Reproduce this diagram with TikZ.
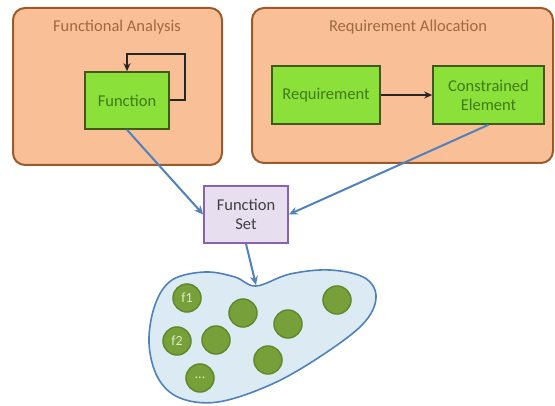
\documentclass[tikz,border=0pt]{standalone}
\usepackage{fontspec}
\setmainfont{Carlito}
\usetikzlibrary{arrows.meta}
\definecolor{orfill}{HTML}{F9BF96}
\definecolor{ordraw}{HTML}{9A5A2C}
\definecolor{ortext}{HTML}{9E6A42}
\definecolor{grfill}{HTML}{8CE03A}
\definecolor{grdraw}{HTML}{3F5A1A}
\definecolor{grtext}{HTML}{3F7A18}
\definecolor{pufill}{HTML}{E7DFF0}
\definecolor{pudraw}{HTML}{8A62AE}
\definecolor{putext}{HTML}{404040}
\definecolor{blfill}{HTML}{DCEAF4}
\definecolor{bldraw}{HTML}{4F81BD}
\definecolor{cifill}{HTML}{78A03A}
\definecolor{cidraw}{HTML}{5E8A2A}
\definecolor{citext}{HTML}{DDEBC4}
\tikzset{
  area/.style={draw=ordraw, fill=orfill, line width=2pt, rounded corners=12pt},
  areatitle/.style={text=ortext, font=\fontsize{16.5}{19}\selectfont},
  gbox/.style={draw=grdraw, fill=grfill, line width=1.6pt, text=grtext, align=center, font=\fontsize{16.5}{19}\selectfont, inner sep=0pt},
  pbox/.style={draw=pudraw, fill=pufill, line width=1.6pt, text=putext, align=center, font=\fontsize{16.5}{19}\selectfont, inner sep=0pt, minimum width=84pt, minimum height=57pt},
  blarrow/.style={draw=bldraw, line width=2pt, -{Stealth[length=9pt,width=8pt]}},
  bkarrow/.style={draw=black!85, line width=2pt, -{Stealth[length=8pt,width=7pt]}},
  elem/.style={circle, draw=cidraw, fill=cifill, line width=1.5pt, minimum size=28pt, inner sep=0pt, text=citext, font=\fontsize{14}{16}\selectfont},
}
\begin{document}
\begin{tikzpicture}[x=1pt,y=-1pt]
\useasboundingbox (0,0) rectangle (555,406);
% areas
\draw[area] (13,8) rectangle (222,165);
\draw[area] (252,8) rectangle (553,163);
\node[areatitle] (fatitle) at (117,27) {Functional Analysis};
\node[areatitle] (ratitle) at (408,27) {Requirement Allocation};
% boxes
\node[gbox, minimum width=84pt, minimum height=57pt] (func) at (127,100.5) {Function};
\node[gbox, minimum width=108pt, minimum height=58pt] (req) at (326,95) {Requirement};
\node[gbox, minimum width=111pt, minimum height=58pt] (ce) at (488.5,95) {Constrained\\Element};
\node[pbox] (fset) at (246,214.5) {Function\\Set};
% loop and arrows
\draw[bkarrow] (func.east) -- ++(15,0) |- ([yshift=17pt]func.north) -- (func.north);
\draw[bkarrow] (req.east) -- (ce.west);
% blob
\coordinate (btop) at (256,285);
\draw[draw=bldraw, fill=blfill, line width=1.6pt] plot[smooth cycle, tension=0.6] coordinates {
  (256,286) (290,274) (330,270) (365,278) (376,298) (362,325) (318,358) (270,385) (218,402) (180,398) (158,378) (149,343) (155,305) (172,280) (205,272) (235,277)};
\draw[blarrow] (func.south) -- (fset.west);
\draw[blarrow] (ce.south) -- (fset.east);
\draw[blarrow] (fset.south) -- (btop);
% elements
\node[elem] (f1) at (187,298) {f1};
\node[elem] (e2) at (243,313) {};
\node[elem] (e3) at (288,324) {};
\node[elem] (e4) at (337,300) {};
\node[elem] (f2) at (177,341) {f2};
\node[elem] (e5) at (216,340) {};
\node[elem] (e6) at (268,360) {};
\node[elem] (fdots) at (200,378) {...};
\end{tikzpicture}
\end{document}
